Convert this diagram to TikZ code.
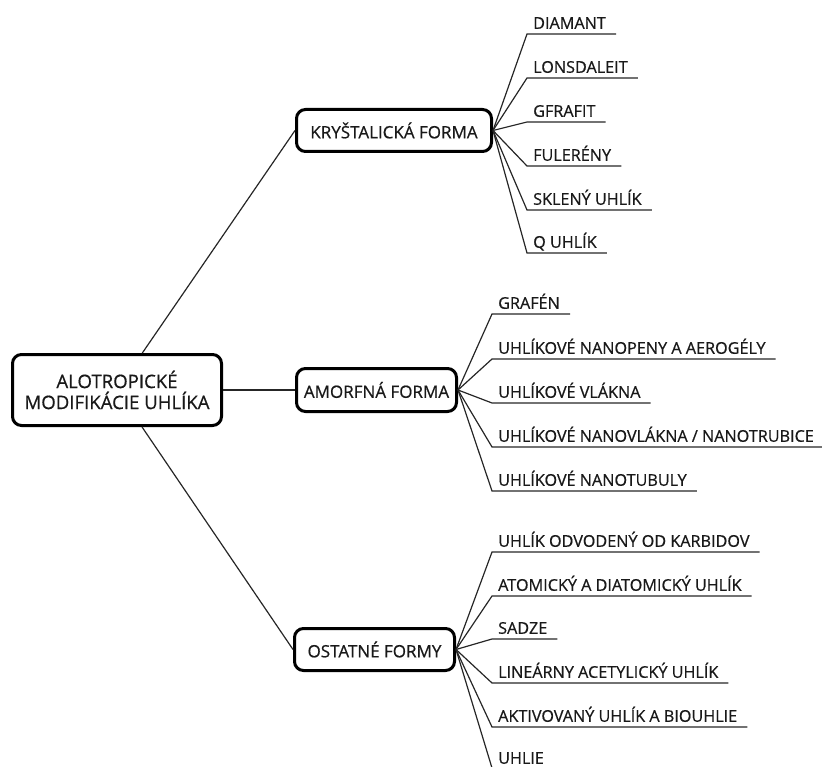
\documentclass[tikz,border=0pt]{standalone}
\usepackage{fontspec}
\setmainfont{Open Sans}[FakeBold=0.6]
\begin{document}
\begin{tikzpicture}[x=1pt,y=-1pt,
  box/.style={draw, line width=3pt, rounded corners=9pt, fill=white, align=center, inner sep=0pt, text=black!90},
  rootbox/.style={box, minimum width=209pt, minimum height=71pt, font=\fontsize{18.6}{21}\selectfont},
  formbox/.style={box, minimum height=42pt, font=\fontsize{17}{19}\selectfont},
  leaf/.style={anchor=south west, inner xsep=6pt, inner ysep=5pt, text depth=0pt, text=black!90, font=\fontsize{16.2}{18}\selectfont},
  link/.style={line width=1.2pt, black!85}]
\useasboundingbox (0,0) rectangle (822,767);

\node[rootbox] (root) at (117,390) {ALOTROPICKÉ\\MODIFIKÁCIE UHLÍKA};
\node[formbox, minimum width=195pt] (kf) at (394,130.5) {KRYŠTALICKÁ FORMA};
\node[formbox, minimum width=160pt, minimum height=43pt] (af) at (376.5,390) {AMORFNÁ FORMA};
\node[formbox, minimum width=160pt] (of) at (374.5,649.5) {OSTATNÉ FORMY};

\draw[link] (root) -- (kf.west);
\draw[link] (root) -- (af.west);
\draw[link] (root) -- (of.west);

% crystalline
\node[leaf] (k1) at (527,34) {DIAMANT};
\node[leaf] (k2) at (527,78) {LONSDALEIT};
\node[leaf] (k3) at (527,122) {GFRAFIT};
\node[leaf] (k4) at (527,166) {FULERÉNY};
\node[leaf] (k5) at (527,210) {SKLENÝ UHLÍK};
\node[leaf] (k6) at (527,253) {Q UHLÍK};
\foreach \n in {k1,k2,k3,k4,k5,k6}
  \draw[link] (kf.east) -- (\n.south west) -- ([xshift=4pt]\n.south east);

% amorphous
\node[leaf] (a1) at (492,314) {GRAFÉN};
\node[leaf] (a2) at (492,359) {UHLÍKOVÉ NANOPENY A AEROGÉLY};
\node[leaf] (a3) at (492,403) {UHLÍKOVÉ VLÁKNA};
\node[leaf] (a4) at (492,447) {UHLÍKOVÉ NANOVLÁKNA / NANOTRUBICE};
\node[leaf] (a5) at (492,491) {UHLÍKOVÉ NANOTUBULY};
\foreach \n in {a1,a2,a3,a4,a5}
  \draw[link] (af.east) -- (\n.south west) -- ([xshift=4pt]\n.south east);

% other
\node[leaf] (o1) at (492,552) {UHLÍK ODVODENÝ OD KARBIDOV};
\node[leaf] (o2) at (492,596) {ATOMICKÝ A DIATOMICKÝ UHLÍK};
\node[leaf] (o3) at (492,639) {SADZE};
\node[leaf] (o4) at (492,683) {LINEÁRNY ACETYLICKÝ UHLÍK};
\node[leaf] (o5) at (492,727) {AKTIVOVANÝ UHLÍK A BIOUHLIE};
\node[leaf, inner ysep=4pt] (o6) at (492,768) {UHLIE};
\foreach \n in {o1,o2,o3,o4,o5,o6}
  \draw[link] (of.east) -- (\n.south west) -- ([xshift=4pt]\n.south east);
\end{tikzpicture}
\end{document}
